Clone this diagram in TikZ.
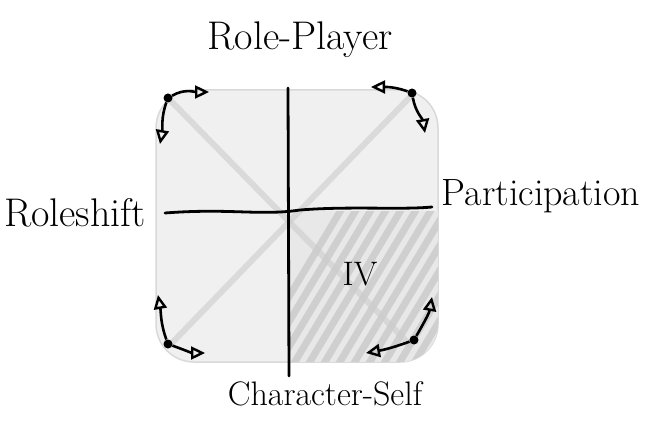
\documentclass[tikz,border=0pt]{standalone}
\usetikzlibrary{arrows.meta}
\begin{document}
\begin{tikzpicture}[x=1pt,y=-1pt,
  lbl/.style={font=\fontsize{40}{40}\selectfont, inner sep=0pt},
  axisline/.style={line width=2.8pt, black, line cap=round},
  dotnode/.style={circle, fill=black, inner sep=0pt, minimum size=9pt},
  cornerarrow/.style={line width=2.6pt, black, -{Triangle[open, length=14pt, width=13pt, line width=2.4pt]}},
  pencil/.style={gray!40, line width=6pt, line cap=round, opacity=0.6}]
\useasboundingbox (0,0) rectangle (658,422);
\fill[white] (0,0) rectangle (658,422);
% pencil shading of the rounded square
\fill[gray!12, rounded corners=38pt] (156,90) rectangle (438,362);
\draw[gray!30, line width=1.5pt, rounded corners=38pt] (156,90) rectangle (438,362);
% quadrant IV hatching
\begin{scope}
  \clip[rounded corners=38pt] (156,90) rectangle (438,362);
  \clip (289,211) rectangle (440,365);
  \fill[gray!18] (289,211) rectangle (440,365);
  \foreach \k in {0,...,24}{
    \draw[gray!38, line width=7pt] (215+\k*15,420) -- (365+\k*15,170);
  }
\end{scope}
% diagonals
\draw[pencil] (170,100) -- (410,345);
\draw[pencil] (410,97) -- (170,345);
% axes
\draw[axisline] (288,88) -- (289,376);
\draw[axisline] (165,213) .. controls (230,208) and (260,216) .. (300,210) .. controls (350,206) and (400,210) .. (432,207);
% labels
\node[lbl] (rp) at (300,40) {Role-Player};
\node[lbl] (rs) at (75,213) {Roleshift};
\node[lbl, font=\fontsize{38}{38}\selectfont] (pa) at (541,196) {Participation};
\node[lbl, font=\fontsize{34}{34}\selectfont] (cs) at (325,394) {Character-Self};
\node[font=\fontsize{34}{34}\selectfont, inner sep=0pt] (iv) at (360,274) {IV};
% corner dots
\node[dotnode] (tl) at (168,98) {};
\node[dotnode] (tr) at (412,93) {};
\node[dotnode] (bl) at (168,344) {};
\node[dotnode] (br) at (414,340) {};
% arrow end points
\coordinate (tlr) at (209,92);
\coordinate (tld) at (160,144);
\coordinate (trl) at (371,87);
\coordinate (trd) at (425,133);
\coordinate (blu) at (158,295);
\coordinate (blr) at (205,353);
\coordinate (bru) at (432,297);
\coordinate (brl) at (366,353);
% corner arrows
\draw[cornerarrow] (tl) to[out=30, in=180] (tlr);
\draw[cornerarrow] (tl) to[out=-110, in=80] (tld);
\draw[cornerarrow] (tr) to[out=160, in=0] (trl);
\draw[cornerarrow] (tr) to[out=-80, in=100] (trd);
\draw[cornerarrow] (bl) to[out=110, in=-80] (blu);
\draw[cornerarrow] (bl) to[out=-20, in=180] (blr);
\draw[cornerarrow] (br) to[out=60, in=-100] (bru);
\draw[cornerarrow] (br) to[out=-160, in=10] (brl);
\end{tikzpicture}
\end{document}
